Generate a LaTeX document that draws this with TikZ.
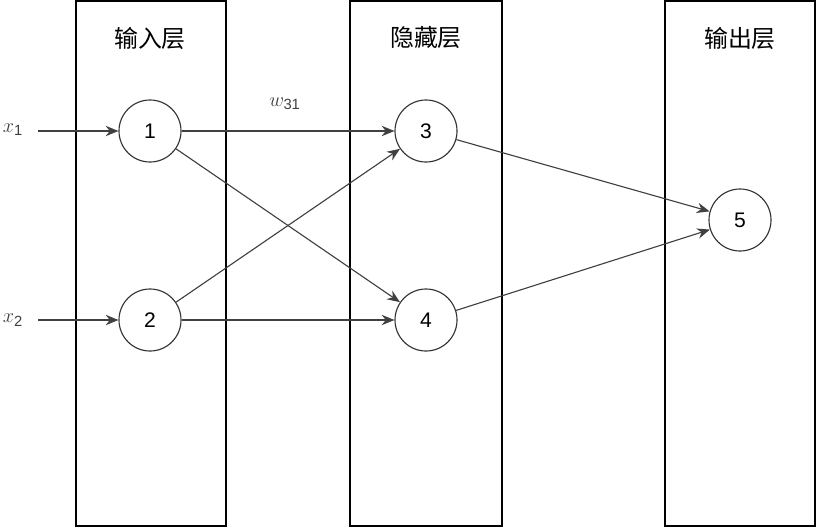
\documentclass[tikz,border=0pt]{standalone}
\usepackage{amsmath}
\usepackage{fontspec}
\setmainfont{Liberation Sans}
\newfontfamily\cjk{Noto Sans CJK SC}
\usetikzlibrary{arrows.meta}
\tikzset{
  neuron/.style={circle, draw=black!80, thick, minimum size=1.55cm, inner sep=0pt, font=\fontsize{15}{18}\selectfont},
  layerbox/.style={draw=black, thick},
  conn/.style={draw=black!75, thick, -{Stealth[length=3.2mm, width=2.6mm]}},
  title/.style={font=\cjk\fontsize{17}{20}\selectfont},
  lbl/.style={font=\fontsize{15}{18}\selectfont, text=black!75}
}
\begin{document}
\begin{tikzpicture}[x=0.025cm, y=-0.025cm]
        \useasboundingbox (0, 0) rectangle (816, 528);
        % Draw the layers
        \draw[layerbox] (76, 1) rectangle (226, 526);
        \draw[layerbox] (350, 1) rectangle (502, 526);
        \draw[layerbox] (665, 1) rectangle (815, 526);
        % Label the layers
        \node[title] (tin) at (150, 38) {输入层};
        \node[title] (thid) at (426, 38) {隐藏层};
        \node[title] (tout) at (740, 38) {输出层};
        % Draw the neurons
        \node[neuron] (n1) at (150, 131) {1};
        \node[neuron] (n2) at (150, 320) {2};
        \node[neuron] (n3) at (426, 131) {3};
        \node[neuron] (n4) at (426, 320) {4};
        \node[neuron] (n5) at (740, 220) {5};
        % Label the inputs
        \node[lbl] (x1) at (13, 130) {$x_{\text{1}}$};
        \node[lbl] (x2) at (13, 320) {$x_{\text{2}}$};
        \coordinate (s1) at (38, 131);
        \coordinate (s2) at (38, 320);
        % Draw the connections
        \draw[conn] (s1) -- (n1);
        \draw[conn] (s2) -- (n2);
        \draw[conn] (n1) -- (n3);
        \draw[conn] (n1) -- (n4);
        \draw[conn] (n2) -- (n3);
        \draw[conn] (n2) -- (n4);
        \draw[conn] (n3) -- (n5);
        \draw[conn] (n4) -- (n5);
        % Label the weight
        \node[lbl] (w31) at (285, 104) {$w_{\text{31}}$};
    \end{tikzpicture}
\end{document}
